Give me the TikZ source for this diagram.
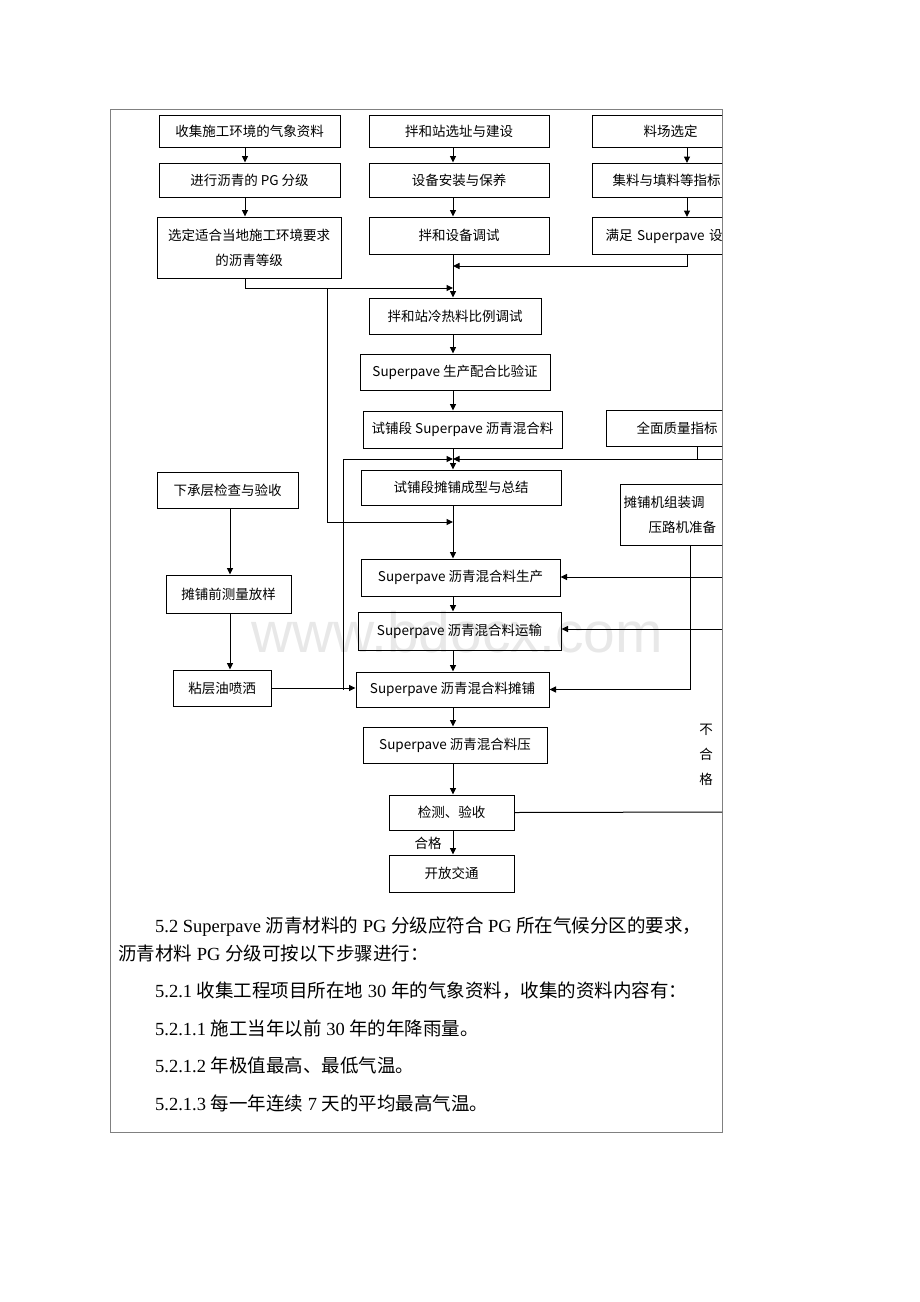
\documentclass[tikz,border=0pt]{standalone}
\usepackage{fontspec}
\setmainfont{Liberation Serif}
\newfontfamily\cjk{Noto Sans CJK SC}
\newfontfamily\wmfont{Liberation Sans}
\usetikzlibrary{arrows.meta}
\newcommand{\zh}[1]{{\cjk #1}}
\newcommand{\mybox}[6]{\node[box, minimum width={#4-#2}, minimum height={#5-#3}] (#1) at ({(#2+#4)/2},{(#3+#5)/2}) {#6};}
\begin{document}
\begin{tikzpicture}[x=1pt,y=-1pt,
  box/.style={draw=black, line width=1pt, inner sep=0pt, align=center, font=\cjk\fontsize{13.5}{25}\selectfont},
  conn/.style={draw=black, line width=1pt},
  arr/.style={conn, -{Triangle[length=6.5pt,width=6pt]}},
  frm/.style={draw=black!50, line width=1pt},
  lbl/.style={inner sep=0pt, font=\cjk\fontsize{13.5}{25}\selectfont},
  para/.style={anchor=base west, inner sep=0pt, font=\fontsize{18.5}{22}\selectfont}]
\useasboundingbox (0,0) rectangle (920,1302);

% watermark
\node[text=black!9, font=\wmfont\fontsize{57}{60}\selectfont, inner sep=0pt] (wm) at (457,632) {www.bdocx.com};

% frame
\draw[frm] (110,109) rectangle (722,1132);

\begin{scope}
\clip (110,109) rectangle (722,1132);
% column x positions
\coordinate (xA) at (245,0);
\coordinate (xB) at (453,0);
\coordinate (xC) at (687,0);
\coordinate (xL) at (230,0);
\coordinate (xM) at (690,0);
\coordinate (xQ) at (697,0);

% left column top
\mybox{A1}{159}{115}{340}{147}{收集施工环境的气象资料}
\mybox{A2}{159}{163}{340}{197}{进行沥青的 PG 分级}
\mybox{A3}{157}{217}{341}{278}{选定适合当地施工环境要求\\的沥青等级}
% middle column top
\mybox{B1}{369}{115}{549}{147}{拌和站选址与建设}
\mybox{B2}{369}{163}{549}{197}{设备安装与保养}
\mybox{B3}{369}{217}{549}{254}{拌和设备调试}
% right column (clipped at frame)
\node[box, anchor=north west, minimum height=32pt, text width=137pt, inner xsep=51pt, align=left] (C1) at (592,115) {料场选定};
\node[box, anchor=north west, minimum height=34pt, text width=148pt, inner xsep=20pt, align=left] (C2) at (592,163) {集料与填料等指标};
\node[box, anchor=north west, minimum height=37pt, text width=162pt, inner xsep=13pt, align=left] (C3) at (592,217) {满足 Superpave 设};

% main chain
\mybox{D1}{369}{298}{541}{334}{拌和站冷热料比例调试}
\mybox{D2}{360}{354}{550}{390}{Superpave 生产配合比验证}
\mybox{D3}{363}{411}{562}{448}{试铺段 Superpave 沥青混合料}
\node[box, anchor=north west, minimum height=36pt, text width=114pt, inner xsep=30pt, align=left] (Q) at (606,410) {全面质量指标};
\mybox{D4}{361}{470}{561}{505}{试铺段摊铺成型与总结}
\node[box, anchor=north west, minimum height=61pt, text width=154pt, inner xsep=3pt, align=left] (M) at (620,484) {摊铺机组装调\\\hspace*{25pt}压路机准备};
\mybox{L1}{157}{472}{298}{508}{下承层检查与验收}
\mybox{L2}{166}{575}{291}{613}{摊铺前测量放样}
\mybox{L3}{173}{670}{271}{706}{粘层油喷洒}
\mybox{D5}{361}{559}{560}{596}{Superpave 沥青混合料生产}
\mybox{D6}{358}{612}{561}{650}{Superpave 沥青混合料运输}
\mybox{D7}{356}{672}{549}{707}{Superpave 沥青混合料摊铺}
\mybox{D8}{363}{727}{547}{763}{Superpave 沥青混合料压}
\mybox{D9}{389}{795}{514}{830}{检测、验收}
\mybox{D10}{389}{855}{514}{892}{开放交通}

% junction coordinates
\coordinate (j266) at (453,266);
\coordinate (j288) at (453,288);
\coordinate (b288) at (327,288);
\coordinate (j522) at (453,522);
\coordinate (j459) at (453,459);
\coordinate (l459) at (343,459);
\coordinate (l690) at (343,690);
\coordinate (q459) at (697,459);
\coordinate (r459) at (722,459);
\coordinate (r576) at (722,577);
\coordinate (r628) at (722,629);
\coordinate (r812) at (722,812);

% connectors
\draw[arr] (A1.south -| xA) -- (A2.north -| xA);
\draw[arr] (A2.south -| xA) -- (A3.north -| xA);
\draw[arr] (B1.south -| xB) -- (B2.north -| xB);
\draw[arr] (B2.south -| xB) -- (B3.north -| xB);
\draw[arr] (C1.south -| xC) -- (C2.north -| xC);
\draw[arr] (C2.south -| xC) -- (C3.north -| xC);
\draw[arr] (C3.south -| xC) |- (j266);
\draw[arr] (B3.south -| xB) -- (D1.north -| xB);
\draw[arr] (A3.south -| xA) |- (j288);
\draw[arr] (b288) |- (j522);
\draw[arr] (D1.south -| xB) -- (D2.north -| xB);
\draw[arr] (D2.south -| xB) -- (D3.north -| xB);
\draw[arr] (D3.south -| xB) -- (D4.north -| xB);
\draw[conn] (Q.south -| xQ) -- (q459);
\draw[arr] (r459) -- (j459);
\draw[arr] (l459) -- (j459);
\draw[conn] (l459) -- (l690);
\draw[arr] (D4.south -| xB) -- (D5.north -| xB);
\draw[arr] (L1.south -| xL) -- (L2.north -| xL);
\draw[arr] (L2.south -| xL) -- (L3.north -| xL);
\draw[arr] (L3.east) -- (L3.east -| D7.west);
\draw[arr] (D5.south -| xB) -- (D6.north -| xB);
\draw[arr] (D6.south -| xB) -- (D7.north -| xB);
\draw[arr] (D7.south -| xB) -- (D8.north -| xB);
\draw[arr] (D8.south -| xB) -- (D9.north -| xB);
\draw[arr] (D9.south -| xB) -- (D10.north -| xB);
\draw[arr] (r576) -- (r576 -| D5.east);
\draw[arr] (r628) -- (r628 -| D6.east);
\draw[arr] (M.south -| xM) |- (D7.east);
\draw[conn] (D9.east) -- (r812);

% labels
\node[lbl] (ok) at (428,843) {合格};
\node[lbl, align=center] (ng) at (706,755) {不\\合\\格};
\end{scope}

% text below
\node[para] (p1) at (155,932) {5.2 Superpave \zh{沥青材料的} PG \zh{分级应符合} PG \zh{所在气候分区的要求，}};
\node[para] (p2) at (118,960) {\zh{沥青材料} PG \zh{分级可按以下步骤进行：}};
\node[para] (p3) at (155,997) {5.2.1 \zh{收集工程项目所在地} 30 \zh{年的气象资料，收集的资料内容有：}};
\node[para] (p4) at (155,1035) {5.2.1.1 \zh{施工当年以前} 30 \zh{年的年降雨量。}};
\node[para] (p5) at (155,1072) {5.2.1.2 \zh{年极值最高、最低气温。}};
\node[para] (p6) at (155,1110) {5.2.1.3 \zh{每一年连续} 7 \zh{天的平均最高气温。}};
\end{tikzpicture}
\end{document}
